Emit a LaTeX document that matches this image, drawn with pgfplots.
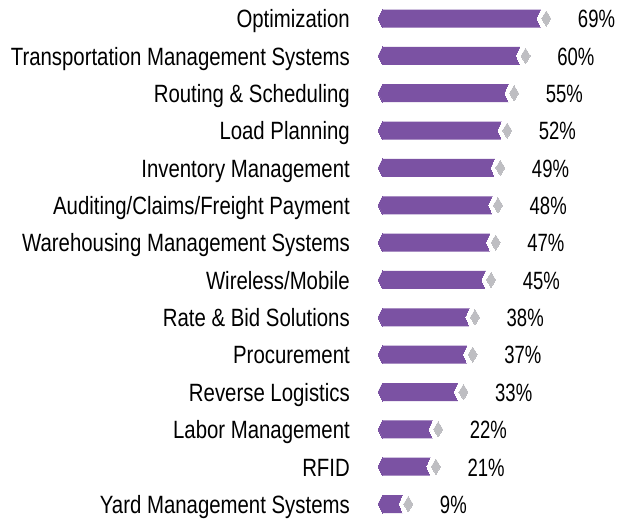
\documentclass[border=0pt]{standalone}
\usepackage{fontspec}
\setmainfont{Liberation Sans}[FakeStretch=0.815]
\newfontfamily\numfont{Liberation Sans}[FakeStretch=0.74]
\usepackage{pgfplots}
\usepackage{pgfplotstable}
\pgfplotsset{compat=1.18}
\definecolor{barpurple}{HTML}{7B52A3}
\definecolor{tipgray}{HTML}{BEBEC2}

% share of respondents, row 0 at the top
\pgfplotstableread{
v  y
69 0
60 1
55 2
52 3
49 4
48 5
47 6
45 7
38 8
37 9
33 10
22 11
21 12
9  13
}\skills

\begin{document}
\begin{tikzpicture}
\useasboundingbox (-382.6bp,18.5bp) rectangle (235.4bp,-500.5bp);
\begin{axis}[
  anchor=origin, at={(0,0)},
  x=2.3bp, y=37.35bp, y dir=reverse,
  xmin=0, xmax=80, ymin=-0.5, ymax=13.5,
  axis line style={draw=none}, tick style={draw=none},
  xtick=\empty, ytick={0,...,13}, ytick pos=left,
  yticklabels={Optimization, Transportation Management Systems,
    Routing \& Scheduling, Load Planning, Inventory Management,
    Auditing/Claims/Freight Payment, Warehousing Management Systems,
    Wireless/Mobile, Rate \& Bid Solutions, Procurement,
    Reverse Logistics, Labor Management, RFID, Yard Management Systems},
  yticklabel style={font=\fontsize{25bp}{28bp}\selectfont,
    anchor=base east, inner sep=0pt, xshift=-32.6bp, yshift=-9.3bp},
  /pgf/number format/assume math mode=true,
  clip=false,
]
\addplot[xbar, bar width=18bp, fill=barpurple, draw=none,
  point meta=x,
  nodes near coords={\pgfmathprintnumber{\pgfplotspointmeta}\%},
  nodes near coords style={font=\numfont\fontsize{25bp}{28bp}\selectfont,
    text=black, anchor=base west, inner sep=0pt, xshift=36.5bp, yshift=-9.3bp}]
  table[x=v, y=y] {\skills};
% pointed left end
\addplot[only marks, mark=diamond*, mark size=9bp, color=barpurple,
  mark options={fill=barpurple, draw=barpurple, line width=0pt, xscale=0.667}]
  table[x expr=0, y=y] {\skills};
% notch at the right end
\addplot[only marks, mark=diamond*, mark size=12bp, color=white,
  mark options={fill=white, draw=white, line width=0pt, xshift=1.33bp, xscale=0.593}]
  table[x=v, y=y] {\skills};
% grey tip
\addplot[only marks, mark=diamond*, mark size=7.5bp, color=tipgray,
  mark options={fill=tipgray, draw=tipgray, line width=0pt, xshift=5bp, xscale=0.8}]
  table[x=v, y=y] {\skills};
\end{axis}
\end{tikzpicture}
\end{document}
